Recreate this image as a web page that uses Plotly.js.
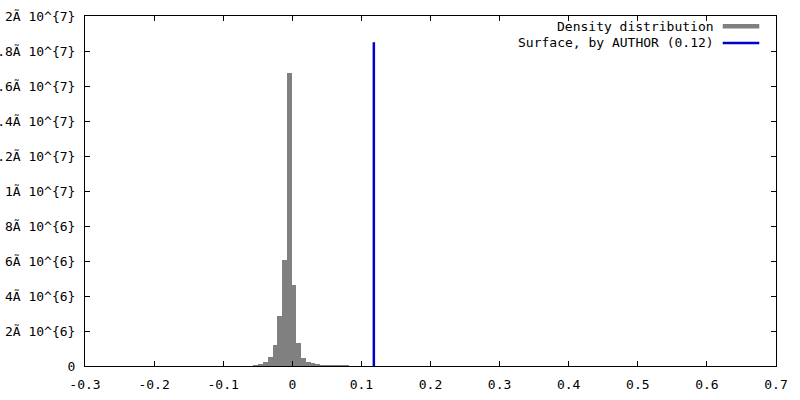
<!DOCTYPE html>
<html>
<head>
<meta charset="utf-8">
<script src="https://cdn.plot.ly/plotly-3.0.1.min.js"></script>
<style>
html,body{margin:0;padding:0;background:#fff;}
#chart{width:800px;height:400px;}
</style>
</head>
<body>
<div id="chart"></div>
<script>
// Histogram bin centers (data units)
const binCenters = [-0.0528, -0.0459, -0.0390, -0.0321, -0.0252, -0.0183, -0.0114, -0.0045,
  0.0024, 0.0093, 0.0162, 0.0231, 0.0300, 0.0369, 0.0438, 0.0507,
  0.0576, 0.0645, 0.0714, 0.0783, 0.0852, 0.0921];
// Density values per bin
const densityValues = [0.03e6, 0.10e6, 0.25e6, 0.53e6, 1.20e6, 2.86e6, 6.06e6, 16.76e6,
  4.63e6, 1.30e6, 0.47e6, 0.25e6, 0.16e6, 0.10e6, 0.07e6, 0.05e6,
  0.04e6, 0.035e6, 0.03e6, 0.03e6, 0.025e6, 0.02e6];
const binWidth = 0.0069;

// Surface value by author
const surfaceX = [0.118, 0.118];
const surfaceY = [0, 1.85e7];

const seriesNames = ["Density distribution", "Surface, by AUTHOR (0.12)"];

const xTickVals = [-0.3, -0.2, -0.1, 0, 0.1, 0.2, 0.3, 0.4, 0.5, 0.6, 0.7];
const xTickText = ["-0.3", "-0.2", "-0.1", "0", "0.1", "0.2", "0.3", "0.4", "0.5", "0.6", "0.7"];
const yTickVals = [0, 2e6, 4e6, 6e6, 8e6, 1e7, 1.2e7, 1.4e7, 1.6e7, 1.8e7, 2e7];
const yTickText = ["0", "2Ã 10^{6}", "4Ã 10^{6}", "6Ã 10^{6}", "8Ã 10^{6}", "1Ã 10^{7}",
  "1.2Ã 10^{7}", "1.4Ã 10^{7}", "1.6Ã 10^{7}", "1.8Ã 10^{7}", "2Ã 10^{7}"];

const font = {family: "DejaVu Sans Mono, monospace", size: 13, color: "#000"};
const grayColor = "#808080";
const blueColor = "#0000c8";

const traces = [
  {
    type: "bar",
    name: seriesNames[0],
    x: binCenters,
    y: densityValues,
    width: binWidth,
    marker: {color: grayColor, line: {width: 0}},
    hoverinfo: "x+y"
  },
  {
    type: "scatter",
    mode: "lines",
    name: seriesNames[1],
    x: surfaceX,
    y: surfaceY,
    line: {color: blueColor, width: 2.5}
  }
];

const legX = 0.9135, legY1 = 0.9714, legY2 = 0.9229;
const sampX0 = 0.9229, sampX1 = 0.9758;

const layout = {
  width: 800,
  height: 400,
  margin: {l: 85, r: 24, t: 16, b: 34, pad: 0},
  paper_bgcolor: "#fff",
  plot_bgcolor: "#fff",
  showlegend: false,
  font: font,
  bargap: 0,
  xaxis: {
    range: [-0.3, 0.7],
    tickvals: xTickVals,
    ticktext: xTickText,
    ticks: "inside",
    ticklen: 5,
    tickcolor: "#000",
    showline: true,
    linecolor: "#000",
    linewidth: 1,
    mirror: "ticks",
    showgrid: false,
    zeroline: false,
    tickfont: font,
    ticklabelstandoff: 6,
    automargin: false
  },
  yaxis: {
    range: [0, 2e7],
    tickvals: yTickVals,
    ticktext: yTickText,
    ticks: "inside",
    ticklen: 5,
    tickcolor: "#000",
    showline: true,
    linecolor: "#000",
    linewidth: 1,
    mirror: "ticks",
    showgrid: false,
    zeroline: false,
    tickfont: font,
    ticklabelstandoff: 6,
    automargin: false
  },
  annotations: [
    {xref: "paper", yref: "paper", x: legX, y: legY1, xanchor: "right", yanchor: "middle",
     text: seriesNames[0], showarrow: false, font: font},
    {xref: "paper", yref: "paper", x: legX, y: legY2, xanchor: "right", yanchor: "middle",
     text: seriesNames[1], showarrow: false, font: font}
  ],
  shapes: [
    {type: "rect", xref: "paper", yref: "paper", x0: sampX0, x1: sampX1, y0: 0.9643, y1: 0.9771,
     fillcolor: grayColor, line: {width: 0}},
    {type: "line", xref: "paper", yref: "paper", x0: sampX0, x1: sampX1, y0: legY2, y1: legY2,
     line: {color: blueColor, width: 2.5}}
  ]
};

Plotly.newPlot("chart", traces, layout, {displayModeBar: false, staticPlot: true});
</script>
</body>
</html>
